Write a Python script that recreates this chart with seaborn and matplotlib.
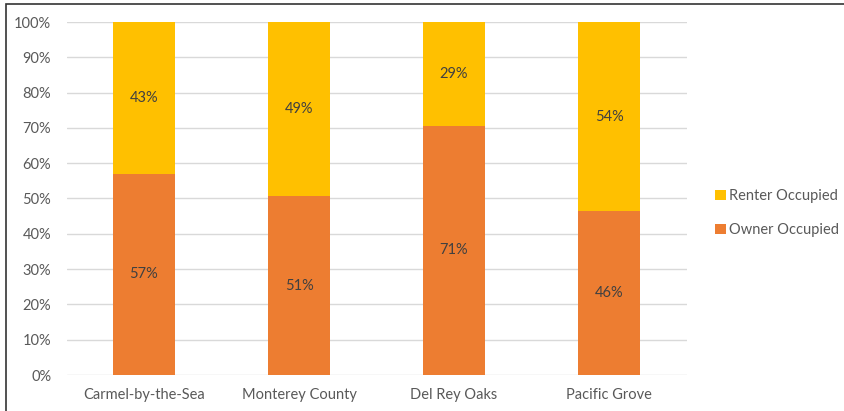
import matplotlib
matplotlib.use("Agg")
import matplotlib.pyplot as plt
import seaborn as sns
import pandas as pd
from matplotlib.patches import Rectangle, Patch

categories = ["Carmel-by-the-Sea", "Monterey County", "Del Rey Oaks", "Pacific Grove"]
owner = [57.0, 50.6, 70.6, 46.4]
renter = [43.0, 49.4, 29.4, 53.6]
yticks = [0, 10, 20, 30, 40, 50, 60, 70, 80, 90, 100]

owner_color = "#ED7D31"
renter_color = "#FFC000"
text_color = "#595959"

sns.set_theme(style="white")
plt.rcParams["font.family"] = ["Lato", "DejaVu Sans"]

df = pd.DataFrame({"cat": categories, "owner": owner, "renter": renter})
df["total"] = df["owner"] + df["renter"]

fig = plt.figure(figsize=(8.44, 4.11), dpi=100)
ax = fig.add_axes([66.5 / 844, 1 - 375 / 411, 620 / 844, 353 / 411])

sns.barplot(data=df, x="cat", y="total", color=renter_color, width=0.4,
            saturation=1, ax=ax, zorder=3, linewidth=0)
sns.barplot(data=df, x="cat", y="owner", color=owner_color, width=0.4,
            saturation=1, ax=ax, zorder=3, linewidth=0)

for i, (o, r) in enumerate(zip(owner, renter)):
    ax.text(i, o / 2, f"{round(o)}%", ha="center", va="center",
            fontsize=10.5, color="#404040", zorder=4)
    ax.text(i, o + r / 2, f"{round(r)}%", ha="center", va="center",
            fontsize=10.5, color="#404040", zorder=4)

ax.set_ylim(0, 100)
ax.set_xlim(-0.5, len(categories) - 0.5)
ax.set_yticks(yticks)
ax.set_yticklabels([f"{t}%" for t in yticks])
ax.set_xlabel("")
ax.set_ylabel("")
for s in ax.spines.values():
    s.set_visible(False)
ax.yaxis.grid(True, color="#D9D9D9", linewidth=1, zorder=0)
ax.set_axisbelow(True)
ax.tick_params(axis="both", length=0, labelsize=10.5, colors=text_color)
ax.tick_params(axis="y", pad=11)
ax.tick_params(axis="x", pad=9)

handles = [Patch(facecolor=renter_color, edgecolor="none"),
           Patch(facecolor=owner_color, edgecolor="none")]
leg = fig.legend(handles, ["Renter Occupied", "Owner Occupied"],
                 loc="center left", bbox_to_anchor=(711 / 844, 1 - 213 / 411),
                 frameon=False, fontsize=10.5, handlelength=0.7,
                 handleheight=0.7, handletextpad=0.25, labelspacing=1.35,
                 borderaxespad=0, borderpad=0.3)
for t in leg.get_texts():
    t.set_color(text_color)

fig.patches.append(Rectangle((6 / 844, -0.1), 1.2, 1 - 4 / 411 + 0.1,
                             transform=fig.transFigure, fill=False,
                             edgecolor="#333333", linewidth=1.2))

fig.savefig("out.png", dpi=100)
